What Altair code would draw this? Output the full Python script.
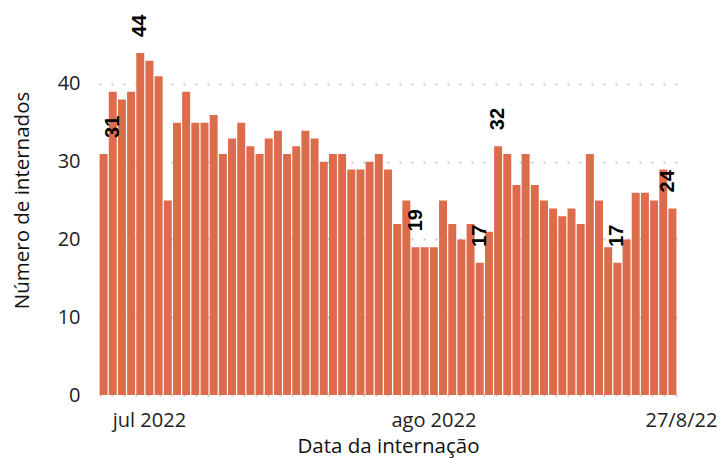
import altair as alt
import pandas as pd

# Data
dias = pd.date_range("2022-06-26", "2022-08-27", freq="D").strftime("%Y-%m-%d").tolist()
internados = [31, 39, 38, 39, 44, 43, 41, 25, 35, 39, 35, 35, 36, 31, 33, 35, 32, 31, 33, 34,
              31, 32, 34, 33, 30, 31, 31, 29, 29, 30, 31, 29, 22, 25, 19, 19, 19, 25, 22, 20,
              22, 17, 21, 32, 31, 27, 31, 27, 25, 24, 23, 24, 22, 31, 25, 19, 17, 20, 26, 26,
              25, 29, 24]
dias_rotulados = ["2022-06-26", "2022-06-30", "2022-07-30", "2022-08-06",
                  "2022-08-08", "2022-08-21", "2022-08-27"]
tick_dates = ["2022-07-01", "2022-08-01", "2022-08-27"]
tick_labels = ["jul 2022", "ago 2022", "27/8/22"]
y_ticks = [0, 10, 20, 30, 40]

df = pd.DataFrame({"dia": dias, "n": internados})
df["rotulo"] = [d in dias_rotulados for d in dias]

label_expr = "".join(f"datum.value == '{d}' ? '{l}' : " for d, l in zip(tick_dates, tick_labels)) + "''"

FONT = "Open Sans"
COLOR = "#DC6C4C"

x = alt.X(
    "dia:N",
    sort=None,
    scale=alt.Scale(paddingInner=0.13, paddingOuter=0.065),
    axis=alt.Axis(
        values=tick_dates,
        labelExpr=label_expr,
        labelAngle=0,
        ticks=False,
        tickSize=0,
        domain=False,
        grid=False,
        labelFont=FONT,
        labelFontSize=20,
        labelColor="#222222",
        labelPadding=15,
        labelOffset={"condition": {"test": f"datum.value == '{tick_dates[-1]}'", "value": 9}, "value": 0},
        title="Data da internação",
        titleFont=FONT,
        titleFontSize=20.5,
        titleFontWeight="normal",
        titleColor="#111111",
        titleX=289,
        titleY=41,
        titleAlign="center",
        titleBaseline="top",
    ),
)

y = alt.Y(
    "n:Q",
    scale=alt.Scale(domain=[0, 49], nice=False),
    axis=alt.Axis(
        values=y_ticks,
        ticks=False,
        tickSize=0,
        domain=False,
        grid=True,
        gridColor="#c8c8c8",
        gridDash=[2, 10],
        gridWidth=2,
        labelFont=FONT,
        labelFontSize=20,
        labelColor="#222222",
        labelPadding=19,
        title="Número de internados",
        titleFont=FONT,
        titleFontSize=20.5,
        titleFontWeight="normal",
        titleColor="#111111",
        titleX=-67,
        titleY=186,
        titleAngle=270,
        titleAlign="center",
        titleBaseline="bottom",
    ),
)

bars = alt.Chart(df).mark_bar(color=COLOR).encode(x=x, y=y)

first_day, last_day = dias_rotulados[0], dias_rotulados[-1]
text_style = dict(angle=270, align="left", baseline="middle", dx=16,
                  font="Liberation Sans", fontWeight="bold", fontSize=20, color="#000000")
text_enc = dict(x=alt.X("dia:N", sort=None), y="n:Q", text="n:Q")

labels_mid = alt.Chart(df).transform_filter(
    f"datum.rotulo && datum.dia != '{first_day}' && datum.dia != '{last_day}'"
).mark_text(**text_style).encode(**text_enc)
label_first = alt.Chart(df).transform_filter(
    f"datum.dia == '{first_day}'"
).mark_text(dy=9, **text_style).encode(**text_enc)
label_last = alt.Chart(df).transform_filter(
    f"datum.dia == '{last_day}'"
).mark_text(dy=-4, **text_style).encode(**text_enc)

chart = (bars + labels_mid + label_first + label_last).properties(
    width=578,
    height=381,
    background="white",
    autosize=alt.AutoSizeParams(type="none"),
    padding={"left": 91, "top": 6, "right": 40, "bottom": 63},
).configure_view(stroke=None)

chart.save("out.html", embed_options={"renderer": "svg", "actions": False})
